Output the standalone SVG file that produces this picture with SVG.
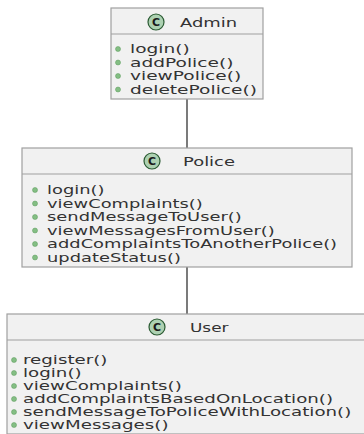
<svg xmlns="http://www.w3.org/2000/svg" width="364" height="434" viewBox="0 0 364 434">
<style>
.box{fill:#f1f1f1;stroke:#a0a0a0;stroke-width:1.2}
.sep{stroke:#a0a0a0;stroke-width:1.2}
.icon{fill:#add1b2;stroke:#2a5a32;stroke-width:1.2}
.ic{font-family:"DejaVu Sans",sans-serif;font-size:11px;font-weight:bold;fill:#1a1a1a;text-anchor:middle}
.hd{font-family:"DejaVu Sans",sans-serif;font-size:13px;fill:#333}
.m{font-family:"DejaVu Sans",sans-serif;font-size:12px;fill:#333}
.b{fill:#84be84;stroke:#5a9a5a;stroke-width:0.5}
.conn{stroke:#333;stroke-width:1.3;fill:none}
</style>
<g id="connectors">
<line class="conn" x1="187" y1="99" x2="187" y2="148"/>
<line class="conn" x1="187" y1="267" x2="187" y2="314"/>
</g>
<g id="admin">
<rect class="box" x="111" y="8" width="152" height="91"/>
<line class="sep" x1="111" y1="34" x2="263" y2="34"/>
<circle class="icon" cx="156" cy="22" r="8"/>
<text class="ic" x="156" y="26">C</text>
<text class="hd" transform="translate(180,27) scale(1.38,1)">Admin</text>
<circle class="b" cx="118" cy="49" r="2.5"/>
<circle class="b" cx="118" cy="62.5" r="2.5"/>
<circle class="b" cx="118" cy="76" r="2.5"/>
<circle class="b" cx="118" cy="89.5" r="2.5"/>
<text class="m" transform="translate(130,53) scale(1.55,1)">login()</text>
<text class="m" transform="translate(130,66.5) scale(1.55,1)">addPolice()</text>
<text class="m" transform="translate(130,80) scale(1.55,1)">viewPolice()</text>
<text class="m" transform="translate(130,93.5) scale(1.55,1)">deletePolice()</text>
</g>
<g id="police">
<rect class="box" x="22" y="148" width="330" height="119"/>
<line class="sep" x1="22" y1="174" x2="352" y2="174"/>
<circle class="icon" cx="152" cy="161" r="8"/>
<text class="ic" x="152" y="165">C</text>
<text class="hd" transform="translate(183,166) scale(1.38,1)">Police</text>
<circle class="b" cx="35" cy="190" r="2.5"/>
<circle class="b" cx="35" cy="203.5" r="2.5"/>
<circle class="b" cx="35" cy="217" r="2.5"/>
<circle class="b" cx="35" cy="230.5" r="2.5"/>
<circle class="b" cx="35" cy="244" r="2.5"/>
<circle class="b" cx="35" cy="257.5" r="2.5"/>
<text class="m" transform="translate(47,194) scale(1.49,1)">login()</text>
<text class="m" transform="translate(47,207.5) scale(1.49,1)">viewComplaints()</text>
<text class="m" transform="translate(47,221) scale(1.49,1)">sendMessageToUser()</text>
<text class="m" transform="translate(47,234.5) scale(1.49,1)">viewMessagesFromUser()</text>
<text class="m" transform="translate(47,248) scale(1.49,1)">addComplaintsToAnotherPolice()</text>
<text class="m" transform="translate(47,261.5) scale(1.49,1)">updateStatus()</text>
</g>
<g id="user">
<rect class="box" x="7" y="314" width="365" height="120"/>
<line class="sep" x1="7" y1="340" x2="364" y2="340"/>
<circle class="icon" cx="157" cy="327" r="8"/>
<text class="ic" x="157" y="331">C</text>
<text class="hd" transform="translate(190,332) scale(1.3,1)">User</text>
<circle class="b" cx="14" cy="360" r="2.5"/>
<circle class="b" cx="14" cy="373" r="2.5"/>
<circle class="b" cx="14" cy="386" r="2.5"/>
<circle class="b" cx="14" cy="399" r="2.5"/>
<circle class="b" cx="14" cy="412" r="2.5"/>
<circle class="b" cx="14" cy="425" r="2.5"/>
<text class="m" transform="translate(23,364) scale(1.52,1)">register()</text>
<text class="m" transform="translate(23,377) scale(1.52,1)">login()</text>
<text class="m" transform="translate(23,390) scale(1.52,1)">viewComplaints()</text>
<text class="m" transform="translate(23,403) scale(1.52,1)">addComplaintsBasedOnLocation()</text>
<text class="m" transform="translate(23,416) scale(1.52,1)">sendMessageToPoliceWithLocation()</text>
<text class="m" transform="translate(23,429) scale(1.52,1)">viewMessages()</text>
</g>
</svg>
